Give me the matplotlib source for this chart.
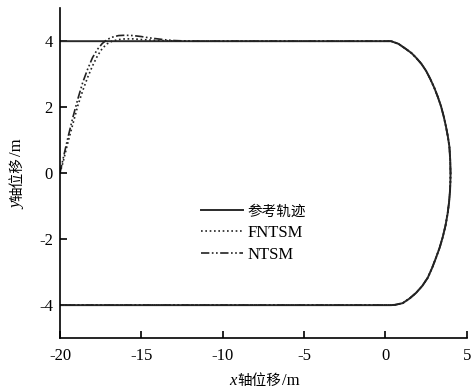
import matplotlib
matplotlib.use('Agg')
import matplotlib.pyplot as plt

plt.rcParams['font.family'] = ['Liberation Serif', 'Noto Sans CJK SC', 'DejaVu Sans']
plt.rcParams['font.size'] = 12
plt.rcParams['axes.unicode_minus'] = False

# reference path: upper straight line, right-hand arc, lower straight line
ref_top_x = [-20, 0.35]
ref_top_y = [4, 4]
arc_x = [0.35, 0.8, 1.27, 1.6, 1.88, 2.2, 2.5, 2.75, 3.0, 3.22, 3.42, 3.58, 3.72,
         3.84, 3.93, 3.98, 4.0, 3.99, 3.97, 3.91, 3.82, 3.69, 3.52, 3.33, 3.11,
         2.87, 2.6, 2.26, 1.88, 1.48, 1.06, 0.6, 0.35]
arc_y = [4.0, 3.92, 3.76, 3.64, 3.5, 3.32, 3.1, 2.86, 2.59, 2.31, 2.02, 1.72, 1.41,
         1.1, 0.8, 0.4, 0.0, -0.26, -0.52, -0.88, -1.23, -1.59, -1.94, -2.26, -2.56,
         -2.87, -3.17, -3.42, -3.63, -3.8, -3.94, -3.99, -4.0]
ref_bot_x = [0.35, -20]
ref_bot_y = [-4, -4]

# tracking trajectories during the approach phase
fntsm_x = [-20, -19.8, -19.5, -19.2, -18.9, -18.6, -18.3, -18.0, -17.7, -17.4, -17.1,
           -16.8, -16.4, -16.0, -15.5, -15.0, -14.0, -13.0, -12.0, 0.35]
fntsm_y = [0, 0.35, 0.95, 1.5, 2.05, 2.5, 2.9, 3.25, 3.55, 3.78, 3.92,
           4.0, 4.05, 4.07, 4.07, 4.05, 4.02, 4.01, 4.0, 4.0]
ntsm_x = [-20, -19.8, -19.5, -19.2, -18.9, -18.6, -18.3, -18.0, -17.7, -17.4, -17.1,
          -16.8, -16.4, -16.0, -15.5, -15.0, -14.5, -14.0, -13.5, -13.0, -12.5, -12.0, 0.35]
ntsm_y = [0, 0.45, 1.1, 1.7, 2.25, 2.75, 3.15, 3.5, 3.75, 3.93, 4.05,
          4.12, 4.17, 4.18, 4.17, 4.14, 4.1, 4.07, 4.04, 4.02, 4.01, 4.0, 4.0]

xticks = [-20, -15, -10, -5, 0, 5]
yticks = [-4, -2, 0, 2, 4]
labels = ['参考轨迹', 'FNTSM', 'NTSM']

fig = plt.figure(figsize=(4.72, 3.9), dpi=100)
ax = fig.add_axes([0.127, 0.133, 0.862, 0.846])

ax.plot(ref_top_x + arc_x + ref_bot_x, ref_top_y + arc_y + ref_bot_y,
        color='#2a2a2a', lw=1.4, label=labels[0])
ax.plot(fntsm_x + arc_x + ref_bot_x, fntsm_y + arc_y + ref_bot_y, color='#222222',
        lw=1.2, linestyle=(0, (1, 1.6)), label=labels[1])
ax.plot(ntsm_x + arc_x + ref_bot_x, ntsm_y + arc_y + ref_bot_y, color='#222222',
        lw=1.2, linestyle=(0, (5, 1.5, 1, 1.5, 1, 1.5)), label=labels[2])

ax.set_xlim(-20, 5)
ax.set_ylim(-5, 5)
ax.set_xticks(xticks)
ax.set_yticks(yticks)
ax.set_xticklabels([str(t) for t in xticks])
ax.set_yticklabels([str(t) for t in yticks])
ax.spines['top'].set_visible(False)
ax.spines['right'].set_visible(False)
ax.spines['left'].set_linewidth(1.2)
ax.spines['bottom'].set_linewidth(1.2)
ax.tick_params(direction='in', length=5, width=1.2, labelsize=12)
ax.tick_params(axis='x', pad=7)
ax.tick_params(axis='y', pad=5)

leg = ax.legend(loc='upper left', bbox_to_anchor=(0.33, 0.425), frameon=False,
                handlelength=2.5, handletextpad=0.3, labelspacing=0.35,
                borderaxespad=0, fontsize=12)
leg.get_texts()[0].set_fontsize(10.5)

W = fig.get_figwidth() * fig.dpi
H = fig.get_figheight() * fig.dpi
fig.canvas.draw()
r = fig.canvas.get_renderer()


def label_pieces(pieces, base_px, center_px, vertical):
    # lay out text pieces one after another, centred on center_px (pixels)
    texts = []
    for s, size, style in pieces:
        t = fig.text(0, 0, s, fontsize=size, style=style, ha='left', va='baseline',
                     rotation=90 if vertical else 0, rotation_mode='anchor')
        texts.append(t)
    sizes = []
    for t in texts:
        bb = t.get_window_extent(r)
        sizes.append((bb.height if vertical else bb.width) + 1)
    pos = center_px - sum(sizes) / 2
    for t, s in zip(texts, sizes):
        if vertical:
            t.set_position((base_px / W, pos / H))
        else:
            t.set_position((pos / W, base_px / H))
        pos += s


label_pieces([('x', 12, 'italic'), ('轴位移', 10.5, 'normal'), ('/m', 12, 'normal')],
             390 - 385, 265, False)
label_pieces([('y', 12, 'italic'), ('轴位移', 10.5, 'normal'), ('/m', 12, 'normal')],
             21, 390 - 173, True)

fig.savefig('out.png', dpi=100)
